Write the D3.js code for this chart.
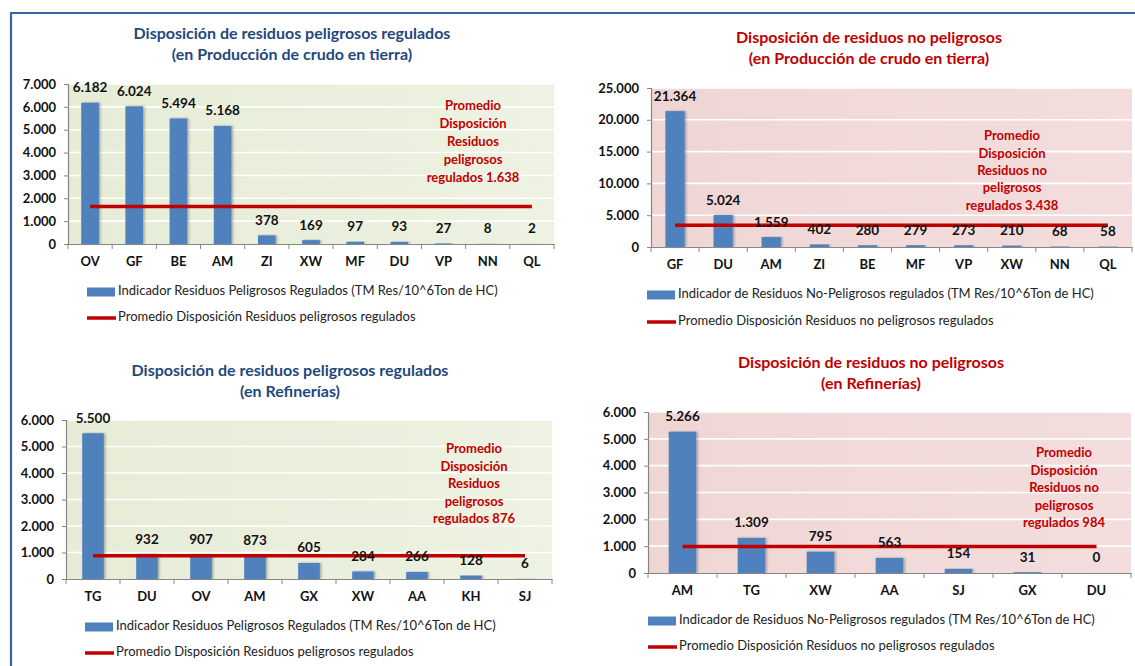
<!DOCTYPE html>
<html><head><meta charset="utf-8">
<script src="https://cdn.jsdelivr.net/npm/d3@7"></script>
<style>
html,body{margin:0;padding:0;background:#fff;}
svg{display:block;font-family:Lato,"Open Sans",sans-serif;}
</style></head>
<body>
<svg id="c" width="1135" height="666"></svg>
<script>
// ---------- DATA ----------
const catsPelTierra = ["OV","GF","BE","AM","ZI","XW","MF","DU","VP","NN","QL"];
const valsPelTierra = [6182,6024,5494,5168,378,169,97,93,27,8,2];
const avgPelTierra = 1638;
const ticksPelTierra = [0,1000,2000,3000,4000,5000,6000,7000];

const catsNoPelTierra = ["GF","DU","AM","ZI","BE","MF","VP","XW","NN","QL"];
const valsNoPelTierra = [21364,5024,1559,402,280,279,273,210,68,58];
const avgNoPelTierra = 3438;
const ticksNoPelTierra = [0,5000,10000,15000,20000,25000];

const catsPelRef = ["TG","DU","OV","AM","GX","XW","AA","KH","SJ"];
const valsPelRef = [5500,932,907,873,605,284,266,128,6];
const avgPelRef = 876;
const ticksPelRef = [0,1000,2000,3000,4000,5000,6000];

const catsNoPelRef = ["AM","TG","XW","AA","SJ","GX","DU"];
const valsNoPelRef = [5266,1309,795,563,154,31,0];
const avgNoPelRef = 984;
const ticksNoPelRef = [0,1000,2000,3000,4000,5000,6000];

const titlesPelTierra = ["Disposición de residuos peligrosos regulados","(en Producción de crudo en tierra)"];
const titlesNoPelTierra = ["Disposición de residuos no peligrosos","(en Producción de crudo en tierra)"];
const titlesPelRef = ["Disposición de residuos peligrosos regulados","(en Refinerías)"];
const titlesNoPelRef = ["Disposición de residuos no peligrosos","(en Refinerías)"];

const legendBarPel = "Indicador Residuos Peligrosos Regulados (TM Res/10^6Ton de HC)";
const legendLinePel = "Promedio Disposición Residuos peligrosos regulados";
const legendBarNoPel = "Indicador de Residuos No-Peligrosos regulados (TM Res/10^6Ton de HC)";
const legendLineNoPel = "Promedio Disposición Residuos no peligrosos regulados";

const annoPel = ["Promedio","Disposición","Residuos","peligrosos","regulados"];
const annoNoPel = ["Promedio","Disposición","Residuos no","peligrosos","regulados"];

// ---------- STYLE / LAYOUT ----------
const loc = d3.formatLocale({decimal:",", thousands:".", grouping:[3], currency:["","€"]});
const fmt = loc.format(",");
const BLUE_TITLE = "#1F497D", RED = "#C00000", BAR = "#4F81BD";

const svg = d3.select("#c");
const defs = svg.append("defs");
const sh = defs.append("filter").attr("id","sh").attr("x","-30%").attr("y","-10%").attr("width","160%").attr("height","120%");
sh.append("feDropShadow").attr("dx",1.5).attr("dy",0).attr("stdDeviation",1.2).attr("flood-color","#000").attr("flood-opacity",0.3);
function grad(id, c1, c2){
  const g = defs.append("linearGradient").attr("id",id).attr("x1","0").attr("x2","1").attr("y1","0").attr("y2","0");
  g.append("stop").attr("offset","0").attr("stop-color",c1);
  g.append("stop").attr("offset","1").attr("stop-color",c2);
}
grad("gGreen","#E6ECD6","#EDF2E2");
grad("gPink","#EFD6D5","#F3DEDD");

// frame
svg.append("path").attr("d","M11,666 L11,13 L1135,13").attr("fill","none")
  .attr("stroke","#3B64A3").attr("stroke-width",2.2);

function chart(o){
  const g = svg.append("g");
  const x = d3.scaleBand().domain(o.cats).range([o.x0,o.x1]).paddingInner(0.6).paddingOuter(0.3);
  const y = d3.scaleLinear().domain([0, d3.max(o.ticks)]).range([o.y1,o.y0]);

  // plot area
  g.append("rect").attr("x",o.x0).attr("y",o.y0).attr("width",o.x1-o.x0).attr("height",o.y1-o.y0)
    .attr("fill",o.bg);
  // grid
  g.append("g").selectAll("line").data(o.ticks.filter(t=>t>0)).join("line")
    .attr("x1",o.x0).attr("x2",o.x1).attr("y1",d=>y(d)).attr("y2",d=>y(d))
    .attr("stroke","#fff").attr("stroke-width",1.6);

  // titles
  g.append("g").selectAll("text").data(o.titles).join("text")
    .attr("x",o.tx).attr("y",(d,i)=>o.ty+i*o.tdy).attr("text-anchor","middle")
    .attr("dominant-baseline","middle")
    .attr("font-size",16).attr("font-weight",700).attr("fill",o.tcol).text(d=>d);

  // bars
  g.append("g").selectAll("rect").data(o.vals).join("rect")
    .attr("x",(d,i)=>x(o.cats[i])).attr("width",x.bandwidth())
    .attr("y",d=>y(d)).attr("height",d=>o.y1-y(d)).attr("fill",BAR).attr("filter","url(#sh)");

  // y axis
  const ya = g.append("g").attr("transform",`translate(${o.x0},0)`)
    .call(d3.axisLeft(y).tickValues(o.ticks).tickFormat(d=>fmt(d)).tickSize(4).tickPadding(8));
  ya.select(".domain").attr("stroke","#868686").attr("stroke-width",1.2);
  ya.selectAll(".tick line").attr("stroke","#868686");
  ya.selectAll(".tick text").attr("font-size",13).attr("font-weight",700).attr("fill","#111")
    .attr("font-family","Lato");

  // x axis
  const xa = g.append("g").attr("transform",`translate(0,${o.y1})`)
    .call(d3.axisBottom(x).tickSize(0).tickPadding(13));
  xa.select(".domain").attr("stroke","#868686").attr("stroke-width",1.2);
  xa.selectAll(".tick text").attr("font-size",13).attr("font-weight",700).attr("fill","#111")
    .attr("font-family","Lato");
  const step = x.step();
  const bounds = o.cats.map(c=>x(c)-(step-x.bandwidth())/2).concat([o.x1]);
  g.append("g").selectAll("line").data(bounds).join("line")
    .attr("x1",d=>d).attr("x2",d=>d).attr("y1",o.y1).attr("y2",o.y1+5)
    .attr("stroke","#868686").attr("stroke-width",1);

  // average line
  const first = x(o.cats[0])+x.bandwidth()/2, last = x(o.cats[o.cats.length-1])+x.bandwidth()/2;
  g.append("line").attr("x1",first).attr("x2",last).attr("y1",y(o.avg)).attr("y2",y(o.avg))
    .attr("stroke",RED).attr("stroke-width",3.5);

  // data labels
  g.append("g").selectAll("text").data(o.vals).join("text")
    .attr("x",(d,i)=>x(o.cats[i])+x.bandwidth()/2).attr("y",d=>y(d)-14)
    .attr("text-anchor","middle").attr("dominant-baseline","middle")
    .attr("font-size",13.5).attr("font-weight",700).attr("fill","#111").text(d=>fmt(d));

  // annotation
  const lines = o.anno.slice(0,-1).concat([o.anno[o.anno.length-1]+" "+fmt(o.avg)]);
  g.append("g").selectAll("text").data(lines).join("text")
    .attr("x",o.ax).attr("y",(d,i)=>o.ay+i*o.ady).attr("text-anchor","middle")
    .attr("dominant-baseline","middle")
    .attr("font-size",13).attr("font-weight",700).attr("fill",RED).text(d=>d);

  // legend
  g.append("rect").attr("x",o.lx).attr("y",o.ly1-4.5).attr("width",28).attr("height",9).attr("fill",BAR);
  g.append("text").attr("x",o.lx+31).attr("y",o.ly1).attr("dominant-baseline","middle")
    .attr("font-size",13).attr("fill","#222").text(o.leg1);
  g.append("line").attr("x1",o.lx).attr("x2",o.lx+29).attr("y1",o.ly2).attr("y2",o.ly2)
    .attr("stroke",RED).attr("stroke-width",3.5);
  g.append("text").attr("x",o.lx+31).attr("y",o.ly2).attr("dominant-baseline","middle")
    .attr("font-size",13).attr("fill","#222").text(o.leg2);
}

chart({cats:catsPelTierra, vals:valsPelTierra, avg:avgPelTierra, ticks:ticksPelTierra,
  titles:titlesPelTierra, tcol:BLUE_TITLE, bg:"url(#gGreen)", anno:annoPel,
  leg1:legendBarPel, leg2:legendLinePel,
  x0:68, x1:554, y0:84, y1:244, tx:292, ty:35, tdy:21, ax:473, ay:107, ady:18, lx:87, ly1:292, ly2:318});

chart({cats:catsNoPelTierra, vals:valsNoPelTierra, avg:avgNoPelTierra, ticks:ticksNoPelTierra,
  titles:titlesNoPelTierra, tcol:RED, bg:"url(#gPink)", anno:annoNoPel,
  leg1:legendBarNoPel, leg2:legendLineNoPel,
  x0:651, x1:1132, y0:88, y1:247, tx:869, ty:39, tdy:21, ax:1012, ay:137, ady:17.3, lx:647, ly1:295, ly2:322});

chart({cats:catsPelRef, vals:valsPelRef, avg:avgPelRef, ticks:ticksPelRef,
  titles:titlesPelRef, tcol:BLUE_TITLE, bg:"url(#gGreen)", anno:annoPel,
  leg1:legendBarPel, leg2:legendLinePel,
  x0:66, x1:552, y0:420, y1:579, tx:290, ty:372, tdy:20.5, ax:474, ay:450, ady:17.5, lx:85, ly1:627, ly2:653});

chart({cats:catsNoPelRef, vals:valsNoPelRef, avg:avgNoPelRef, ticks:ticksNoPelRef,
  titles:titlesNoPelRef, tcol:RED, bg:"url(#gPink)", anno:annoNoPel,
  leg1:legendBarNoPel, leg2:legendLineNoPel,
  x0:648, x1:1131, y0:412, y1:573, tx:871, ty:364, tdy:21, ax:1064, ay:454, ady:17.5, lx:648, ly1:621, ly2:647});
</script>
</body></html>
